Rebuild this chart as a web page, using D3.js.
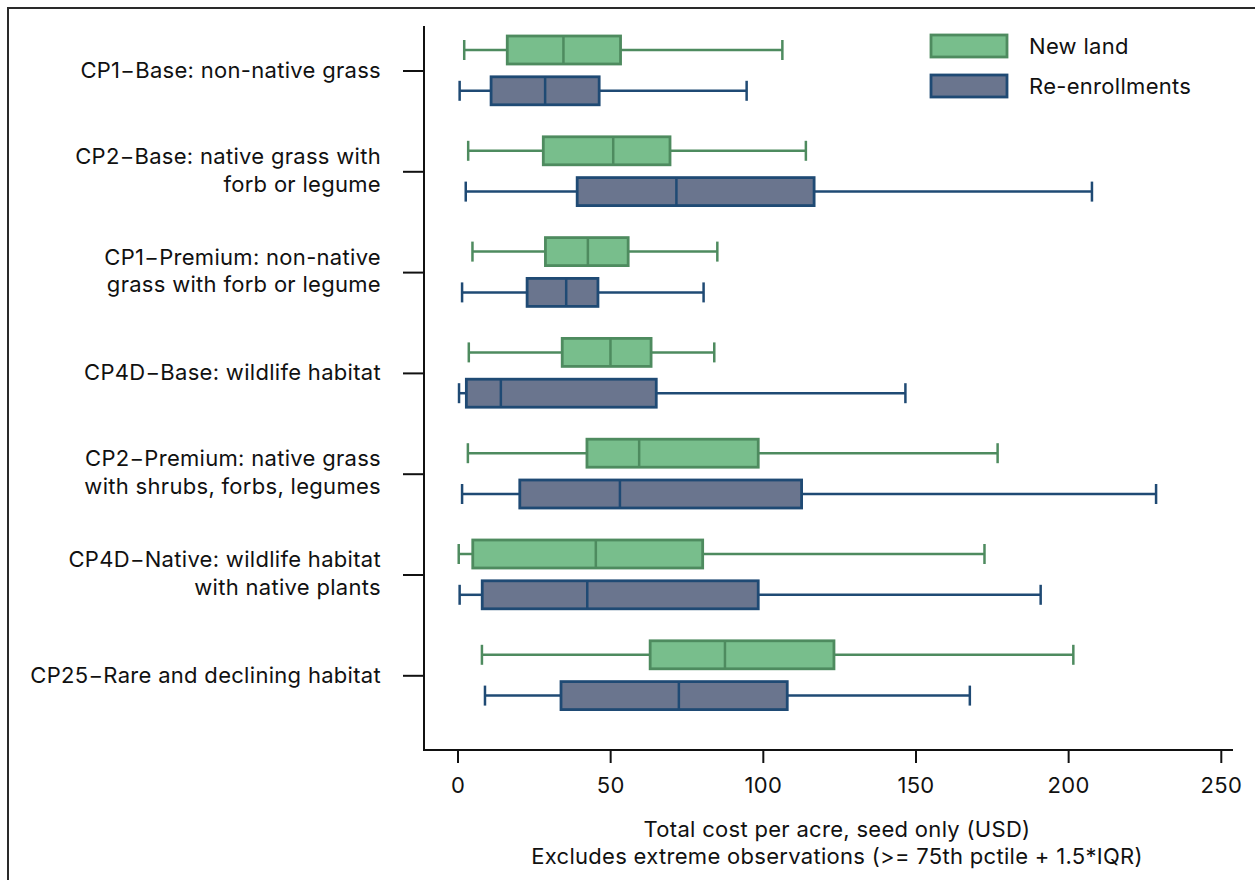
<!DOCTYPE html>
<html>
<head>
<meta charset="utf-8">
<script src="https://cdn.jsdelivr.net/npm/d3@7"></script>
<style>
  html, body { margin: 0; padding: 0; background: #fff; }
  svg { display: block; }
  text { font-family: Inter, "Noto Sans", sans-serif; fill: #111; letter-spacing: 0.3px; }
</style>
</head>
<body>
<svg id="chart" width="1255" height="880"></svg>
<script>
// ---- data ----
const categories = [
  ["CP1\u2212Base: non-native grass"],
  ["CP2\u2212Base: native grass with", "forb or legume"],
  ["CP1\u2212Premium: non-native", "grass with forb or legume"],
  ["CP4D\u2212Base: wildlife habitat"],
  ["CP2\u2212Premium: native grass", "with shrubs, forbs, legumes"],
  ["CP4D\u2212Native: wildlife habitat", "with native plants"],
  ["CP25\u2212Rare and declining habitat"]
];
const seriesNames = ["New land", "Re-enrollments"];
// [lower whisker, q1, median, q3, upper whisker]
const newLand = [
  [2.2, 16.3, 34.7, 53.4, 106.4],
  [3.5, 28.1, 51.0, 69.6, 114.1],
  [4.9, 28.8, 42.7, 55.9, 85.1],
  [3.7, 34.3, 50.1, 63.4, 84.1],
  [3.4, 42.4, 59.5, 98.5, 176.9],
  [0.4, 5.0, 45.3, 80.3, 172.6],
  [8.0, 63.1, 87.6, 123.3, 201.7]
];
const reEnroll = [
  [0.7, 11.0, 28.7, 46.4, 94.7],
  [2.7, 39.2, 71.7, 116.8, 207.8],
  [1.5, 22.8, 35.6, 46.0, 80.6],
  [0.5, 2.9, 14.2, 65.1, 146.7],
  [1.5, 20.4, 53.2, 112.7, 228.8],
  [0.7, 8.1, 42.5, 98.5, 191.0],
  [9.0, 33.9, 72.5, 108.0, 167.8]
];
const xTicks = [0, 50, 100, 150, 200, 250];
const xTitle = ["Total cost per acre, seed only (USD)",
                "Excludes extreme observations (>= 75th pctile + 1.5*IQR)"];

// ---- styles ----
const fills = ["#78be8c", "#6a758e"];
const strokes = ["#4e8b5f", "#1f4a74"];
const FS = 22;

const svg = d3.select("#chart");

// frame
svg.append("rect").attr("x", 8).attr("y", 8).attr("width", 1260).attr("height", 900)
  .attr("fill", "none").attr("stroke", "#2a2a2a").attr("stroke-width", 2);

const x = d3.scaleLinear().domain([0, 250]).range([457.5, 1220.8]);
const idx = d3.range(categories.length);
const y = d3.scalePoint().domain(idx).range([70.5, 675.3]);
const offsets = [-20.5, 20.3];
const boxH = 28;
const capH = 20;

// axes lines
const axisLeft = 424, axisBottom = 750;
svg.append("line").attr("x1", axisLeft).attr("x2", axisLeft).attr("y1", 26).attr("y2", axisBottom + 1)
  .attr("stroke", "#111").attr("stroke-width", 2);
svg.append("line").attr("x1", axisLeft - 1).attr("x2", 1233).attr("y1", axisBottom).attr("y2", axisBottom)
  .attr("stroke", "#111").attr("stroke-width", 2);

// x axis
const xa = svg.append("g").attr("transform", `translate(0,${axisBottom})`)
  .call(d3.axisBottom(x).tickValues(xTicks).tickSize(13).tickPadding(14).tickFormat(d3.format("d")));
xa.select(".domain").remove();
xa.selectAll(".tick line").attr("stroke", "#111").attr("stroke-width", 2);
xa.selectAll(".tick text").attr("font-size", FS).attr("fill", "#111")
  .style("font-family", "Inter, 'Noto Sans', sans-serif");

// y axis ticks + labels
const ya = svg.append("g").attr("transform", `translate(${axisLeft},0)`)
  .call(d3.axisLeft(y).tickSize(21).tickFormat(""));
ya.select(".domain").remove();
ya.selectAll(".tick line").attr("stroke", "#111").attr("stroke-width", 2);

const lab = svg.append("g");
idx.forEach(i => {
  const lines = categories[i];
  const t = lab.append("text").attr("text-anchor", "end").attr("font-size", FS);
  const base = y(i) + 7.5;
  const lh = 27.6;
  lines.forEach((ln, k) => {
    const yy = lines.length === 1 ? base : base - lh / 2 + k * lh - 1;
    t.append("tspan").attr("x", 381).attr("y", yy).text(ln);
  });
});

// boxes
[newLand, reEnroll].forEach((ser, s) => {
  const g = svg.append("g");
  ser.forEach((d, i) => {
    const cy = y(i) + offsets[s];
    const [lo, q1, med, q3, hi] = d;
    g.append("line").attr("x1", x(lo)).attr("x2", x(q1)).attr("y1", cy).attr("y2", cy)
      .attr("stroke", strokes[s]).attr("stroke-width", 2.5);
    g.append("line").attr("x1", x(q3)).attr("x2", x(hi)).attr("y1", cy).attr("y2", cy)
      .attr("stroke", strokes[s]).attr("stroke-width", 2.5);
    [lo, hi].forEach(v => {
      g.append("line").attr("x1", x(v)).attr("x2", x(v)).attr("y1", cy - capH / 2).attr("y2", cy + capH / 2)
        .attr("stroke", strokes[s]).attr("stroke-width", 2.5);
    });
    g.append("rect").attr("x", x(q1)).attr("y", cy - boxH / 2).attr("width", x(q3) - x(q1)).attr("height", boxH)
      .attr("fill", fills[s]).attr("stroke", strokes[s]).attr("stroke-width", 2.8);
    g.append("line").attr("x1", x(med)).attr("x2", x(med)).attr("y1", cy - boxH / 2).attr("y2", cy + boxH / 2)
      .attr("stroke", strokes[s]).attr("stroke-width", 2.5);
  });
});

// legend
const leg = svg.append("g");
seriesNames.forEach((n, s) => {
  const cy = 46 + s * 40;
  leg.append("rect").attr("x", 931).attr("y", cy - 11).attr("width", 76).attr("height", 22)
    .attr("fill", fills[s]).attr("stroke", strokes[s]).attr("stroke-width", 2.8);
  leg.append("text").attr("x", 1029).attr("y", cy + 8).attr("font-size", FS).text(n);
});

// x title
const tt = svg.append("text").attr("text-anchor", "middle").attr("font-size", FS);
xTitle.forEach((ln, k) => {
  tt.append("tspan").attr("x", 837).attr("y", 837 + k * 27).text(ln);
});
</script>
</body>
</html>
